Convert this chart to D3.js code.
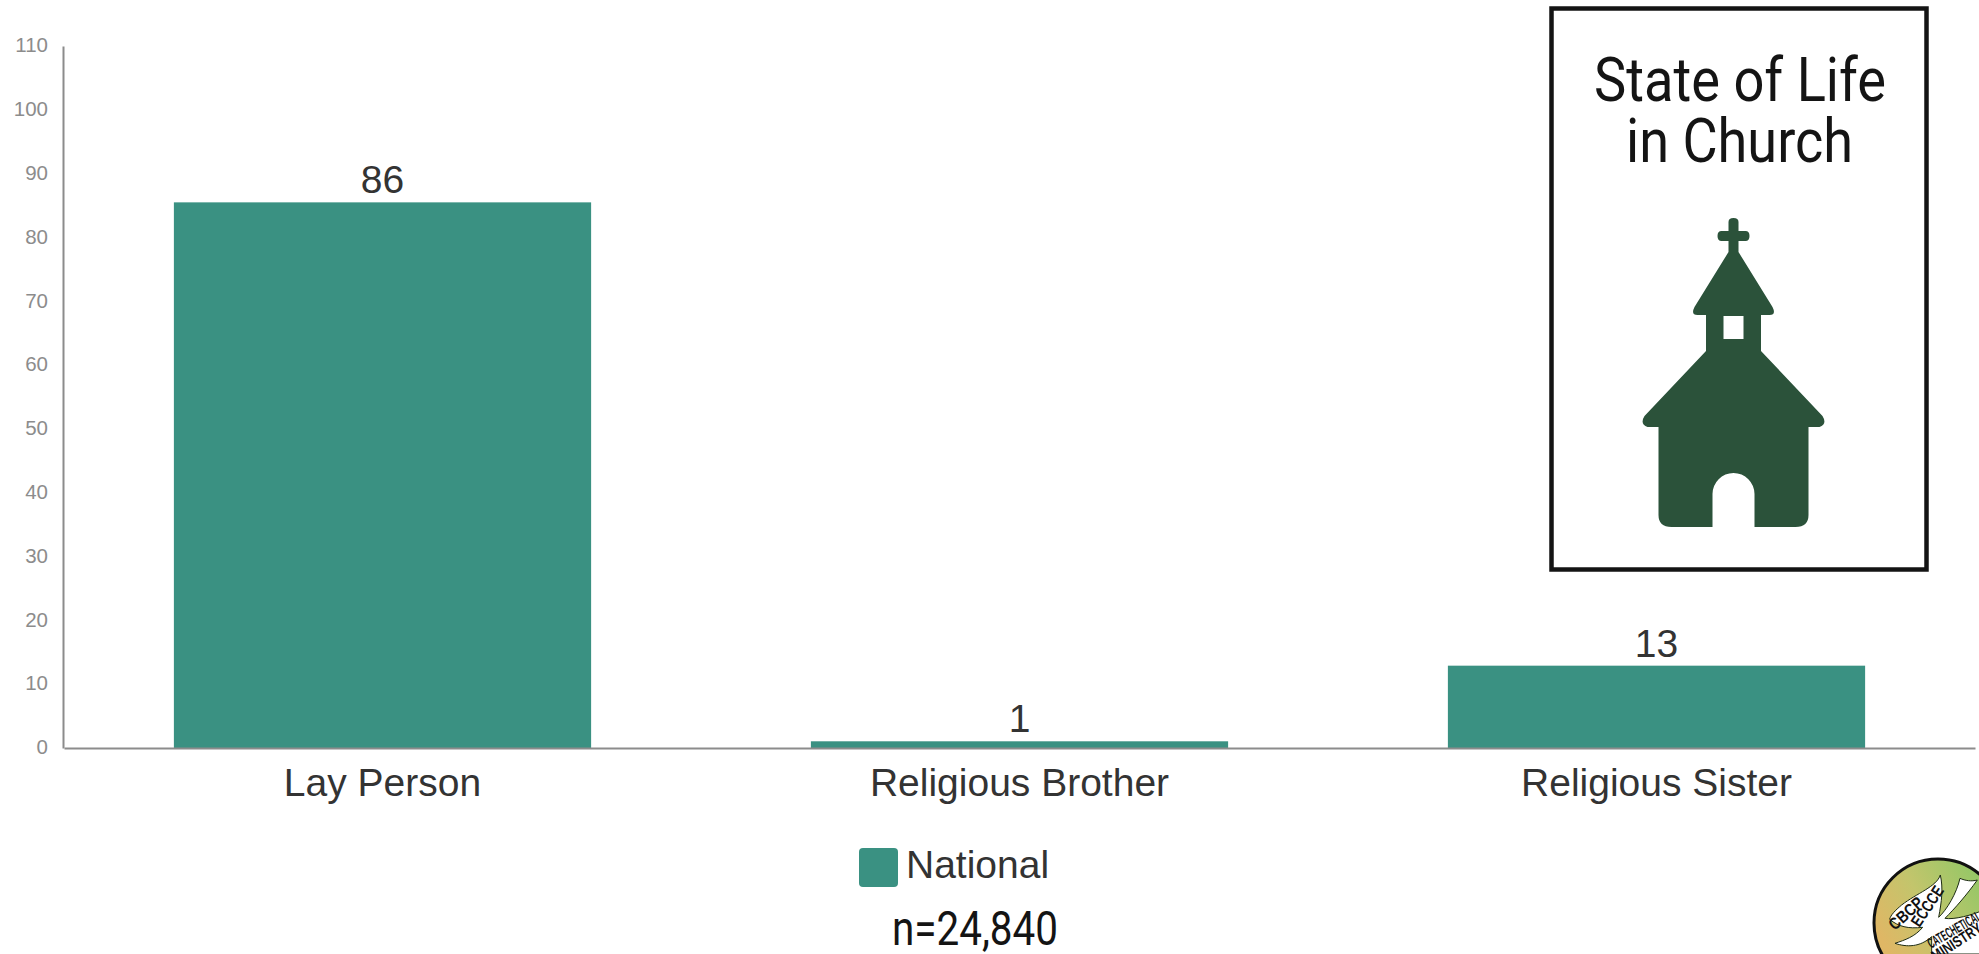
<!DOCTYPE html>
<html>
<head>
<meta charset="utf-8">
<script src="https://cdn.jsdelivr.net/npm/d3@7"></script>
<style>
  html, body { margin: 0; padding: 0; background: #fff; overflow: hidden; }
  svg { display: block; }
  .axis text { font-family: "Liberation Sans", Arial, sans-serif; }
  .axis path { stroke: #8c8c8c; stroke-width: 2; }
  .dark { font-family: "Liberation Sans", Arial, sans-serif; fill: #333; font-size: 39px; }
  .cond { font-family: Roboto, sans-serif; fill: #141414; }
</style>
</head>
<body>
<div id="chart"></div>
<script>
const categories = ["Lay Person", "Religious Brother", "Religious Sister"];
const nationalValues = [85.5, 1.05, 12.9];
const yTicks = [0, 10, 20, 30, 40, 50, 60, 70, 80, 90, 100, 110];
const legendLabel = "National";
const sampleLabel = "n=24,840";
const titleLines = ["State of Life", "in Church"];

const width = 1979;
const height = 954;
const margin = { top: 46, right: 4, bottom: 206, left: 64 };
const teal = "#3a9182";
const churchGreen = "#2b523a";

const svg = d3
  .select("#chart")
  .append("svg")
  .attr("width", width)
  .attr("height", height)
  .attr("viewBox", [0, 0, width, height]);

const x = d3
  .scaleBand()
  .domain(categories)
  .range([margin.left, width - margin.right])
  .paddingInner(0.345)
  .paddingOuter(0.1725);
const y = d3
  .scaleLinear()
  .domain([0, 110])
  .range([height - margin.bottom, margin.top]);

// bars
svg
  .append("g")
  .selectAll("rect")
  .data(nationalValues)
  .join("rect")
  .attr("x", (d, i) => x(categories[i]))
  .attr("y", (d) => y(d))
  .attr("width", x.bandwidth())
  .attr("height", (d) => y(0) - y(d))
  .attr("fill", teal);

// value labels
svg
  .append("g")
  .selectAll("text")
  .data(nationalValues)
  .join("text")
  .attr("class", "dark")
  .attr("x", (d, i) => x(categories[i]) + x.bandwidth() / 2)
  .attr("y", (d) => y(d) - 9)
  .attr("text-anchor", "middle")
  .text((d) => d3.format(".0f")(d));

// axes
const gy = svg
  .append("g")
  .attr("class", "axis")
  .attr("transform", `translate(${margin.left - 1},0)`)
  .call(d3.axisLeft(y).tickValues(yTicks).tickSize(0).tickPadding(15));
gy.selectAll("text")
  .attr("font-size", 20.5)
  .attr("fill", "#8c8c8c")
  .attr("dy", "0.28em");

const gx = svg
  .append("g")
  .attr("class", "axis")
  .attr("transform", `translate(0,${y(0)})`)
  .call(d3.axisBottom(x).tickSize(0).tickPadding(20));
gx.selectAll("text")
  .attr("font-size", 39)
  .attr("fill", "#333")
  .attr("dy", "0.71em");

// legend
svg
  .append("rect")
  .attr("x", 859)
  .attr("y", 848)
  .attr("width", 39)
  .attr("height", 39)
  .attr("rx", 4)
  .attr("fill", teal);
svg
  .append("text")
  .attr("class", "dark")
  .attr("x", 906)
  .attr("y", 878)
  .text(legendLabel);
svg
  .append("text")
  .attr("class", "cond")
  .attr("x", 892)
  .attr("y", 945)
  .attr("font-size", 48)
  .attr("fill", "#222")
  .attr("textLength", 166)
  .attr("lengthAdjust", "spacingAndGlyphs")
  .text(sampleLabel);

// title box
const box = svg.append("g");
box
  .append("rect")
  .attr("x", 1551.5)
  .attr("y", 8.5)
  .attr("width", 375)
  .attr("height", 561)
  .attr("fill", "#fff")
  .attr("stroke", "#141414")
  .attr("stroke-width", 4.5);
box
  .selectAll("text")
  .data(titleLines)
  .join("text")
  .attr("class", "cond")
  .attr("x", (d, i) => (i === 0 ? 1594 : 1626))
  .attr("y", (d, i) => 101 + i * 61)
  .attr("font-size", 62)
  .attr("textLength", (d, i) => (i === 0 ? 292 : 227))
  .attr("lengthAdjust", "spacingAndGlyphs")
  .text((d) => d);

// church pictogram, drawn around its own centre line
const church = box.append("g").attr("transform", "translate(1733.5,0)");
church
  .append("path")
  .attr("fill", churchGreen)
  .attr("fill-rule", "evenodd")
  .attr(
    "d",
    `M-5,222 Q-5,218 0,218 Q5,218 5,222 V231 H12 Q16,231 16,236 Q16,241 12,241 H5 V252
     L39,307 Q43,315 36,315 H27.5 V351 L89,416 Q94,424 86,427 H75 V515 Q75,527 62,527 H21 V494
     A21,21 0 0 0 -21,494 V527 H-62 Q-75,527 -75,515 V427 H-86 Q-94,424 -89,416 L-27.5,351 V315
     H-36 Q-43,315 -39,307 L-5,252 V241 H-12 Q-16,241 -16,236 Q-16,231 -12,231 H-5 Z
     M-10,316 H10 V339 H-10 Z`
  );

// logo in the corner, runs off the page
const defs = svg.append("defs");
const grad = defs
  .append("linearGradient")
  .attr("id", "logo-grad")
  .attr("x1", "0.05")
  .attr("y1", "0.6")
  .attr("x2", "0.85")
  .attr("y2", "0.15");
grad.append("stop").attr("offset", "0").attr("stop-color", "#dfb765");
grad.append("stop").attr("offset", "0.45").attr("stop-color", "#c3c56c");
grad.append("stop").attr("offset", "1").attr("stop-color", "#93c766");

const logo = svg.append("g").attr("transform", "translate(1840,830) scale(0.3333)");
logo
  .append("circle")
  .attr("cx", 294)
  .attr("cy", 279)
  .attr("r", 192)
  .attr("fill", "url(#logo-grad)")
  .attr("stroke", "#111")
  .attr("stroke-width", 9);
logo
  .append("path")
  .attr("fill", "#fff")
  .attr("stroke", "#1c2a12")
  .attr("stroke-width", 3)
  .attr(
    "d",
    `M301,135 C290,170 230,190 185,225 C165,242 152,255 149,268 C175,290 205,297 248,292
     C225,320 195,330 165,340 C200,352 240,352 275,320 L275,372 L430,372 L430,240
     C400,255 340,270 315,265 C345,235 380,195 412,150 C395,155 375,152 360,145
     C350,190 320,240 296,262 C305,215 310,175 301,135 Z`
  );
const logoTexts = [
  { t: "CBCP", cx: 209, cy: 263, r: -42, fs: 50, w: 120 },
  { t: "ECCCE", cx: 276, cy: 238, r: -56, fs: 50, w: 135 },
  { t: "CATECHETICAL", cx: 350, cy: 312, r: -30, fs: 44, w: 178 },
  { t: "MINISTRY", cx: 358, cy: 349, r: -33, fs: 46, w: 170 },
];
logo
  .selectAll("text")
  .data(logoTexts)
  .join("text")
  .attr("transform", (d) => `translate(${d.cx},${d.cy}) rotate(${d.r})`)
  .attr("text-anchor", "middle")
  .attr("font-family", "Liberation Sans, sans-serif")
  .attr("font-weight", 700)
  .attr("font-size", (d) => d.fs)
  .attr("fill", "#111")
  .attr("textLength", (d) => d.w)
  .attr("lengthAdjust", "spacingAndGlyphs")
  .text((d) => d.t);
</script>
</body>
</html>
